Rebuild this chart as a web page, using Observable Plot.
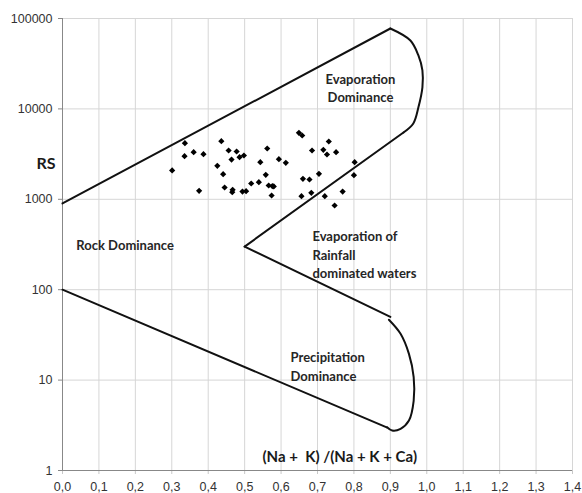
<!DOCTYPE html>
<html><head><meta charset="utf-8">
<script src="https://cdn.jsdelivr.net/npm/d3@7"></script>
<script src="https://cdn.jsdelivr.net/npm/@observablehq/plot@0.6"></script>
<style>html,body{margin:0;padding:0;background:#fff}#chart svg{display:block}</style>
</head><body><div id="chart"></div>
<script>
// Axis ticks
const xTicks = [0, 0.1, 0.2, 0.3, 0.4, 0.5, 0.6, 0.7, 0.8, 0.9, 1.0, 1.1, 1.2, 1.3, 1.4];
const yTicks = [1, 10, 100, 1000, 10000, 100000];

// Samples: (Na+K)/(Na+K+Ca) and RS
const sampleRatio = [0.301,0.336,0.335,0.360,0.387,0.375,0.436,0.456,0.478,0.464,0.486,0.498,0.425,0.441,0.445,0.467,0.466,0.494,0.504,0.518,0.539,0.562,0.543,0.558,0.566,0.576,0.580,0.574,0.594,0.613,0.649,0.658,0.685,0.660,0.678,0.704,0.656,0.683,0.716,0.731,0.726,0.751,0.720,0.747,0.769,0.802,0.800];
const sampleRS = [2084,4177,2998,3320,3155,1242,4393,3465,3378,2754,2923,3052,2348,1896,1351,1274,1198,1219,1230,1495,1547,3648,2572,1866,1421,1400,1387,1102,2779,2535,5442,5080,3465,1686,1656,1914,1082,1180,3530,4359,3131,3320,1082,854,1219,2572,1848];

// Gibbs boundaries
const rockUpperX = [0, 0.9];
const rockUpperRS = [900, 77500];
const evapCurveX = [0.9, 0.955, 0.977, 0.988, 0.988, 0.977, 0.963, 0.936];
const evapCurveRS = [77500, 57100, 39000, 26600, 17300, 10400, 6900, 5480];
const rainUpperX = [0.936, 0.5];
const rainUpperRS = [5480, 300];
const rainLowerX = [0.5, 0.9];
const rainLowerRS = [300, 50];
const precipCurveX = [0.896, 0.928, 0.951, 0.964, 0.964, 0.951, 0.928, 0.905, 0.891];
const precipCurveRS = [46.5, 32.5, 19.5, 10.8, 5.9, 3.57, 2.89, 2.77, 3.01];
const rockLowerX = [0, 0.89];
const rockLowerRS = [100, 3.0];

// Region labels
const labelText = ["Rock Dominance", "Evaporation\nDominance", "Evaporation of\nRainfall\ndominated waters", "Precipitation\nDominance"];
const labelX = [0.038, 0.818, 0.686, 0.626];
const labelRS = [324, 17460, 251, 14.5];
const labelAnchor = ["start", "middle", "start", "start"];
const xTitle = "(Na +  K) /(Na + K + Ca)";
const yTitle = "RS";

const pts = sampleRatio.map((x, i) => ({x, y: sampleRS[i]}));
const mk = (X, Y) => X.map((x, i) => ({x, y: Y[i]}));
const labels = labelText.map((t, i) => ({t, x: labelX[i], y: labelRS[i], a: labelAnchor[i]}));
const fmt = d => d.toFixed(1).replace(".", ",");
const labFont = "Lato, 'Open Sans', sans-serif";
const lineStyle = {x: "x", y: "y", stroke: "#111", strokeWidth: 2};
const labStyle = {x: "x", y: "y", text: "t", lineAnchor: "middle", lineHeight: 1.45, fontFamily: labFont, fontWeight: "bold", fontSize: 13, fill: "#262626"};

const chart = Plot.plot({
  width: 582, height: 493,
  marginLeft: 62, marginRight: 10, marginTop: 18, marginBottom: 23,
  style: {fontFamily: "'Liberation Sans', Arial, sans-serif", fontSize: "12.5px", color: "#333", background: "#fff", overflow: "visible"},
  x: {domain: [0, 1.4]},
  y: {type: "log", domain: [1, 100000]},
  marks: [
    Plot.gridX(xTicks.filter(d => d > 0), {stroke: "#d6d6d6", strokeOpacity: 1}),
    Plot.gridY(yTicks.filter(d => d > 1), {stroke: "#d6d6d6", strokeOpacity: 1}),
    Plot.axisX(xTicks, {tickFormat: fmt, tickSize: 4, tickPadding: 8, stroke: "#c8c8c8", fill: "#333", label: null}),
    Plot.axisY(yTicks, {tickFormat: d => String(d), tickSize: 4, tickPadding: 6, stroke: "#888", fill: "#333", label: null}),
    Plot.ruleY([1], {stroke: "#888"}),
    Plot.ruleX([0], {stroke: "#888"}),
    Plot.line(mk(rockUpperX, rockUpperRS), lineStyle),
    Plot.line(mk(evapCurveX, evapCurveRS), {...lineStyle, curve: "catmull-rom"}),
    Plot.line(mk(rainUpperX, rainUpperRS), lineStyle),
    Plot.line(mk(rainLowerX, rainLowerRS), lineStyle),
    Plot.line(mk(precipCurveX, precipCurveRS), {...lineStyle, curve: "catmull-rom"}),
    Plot.line(mk(rockLowerX, rockLowerRS), lineStyle),
    Plot.dot(pts, {x: "x", y: "y", symbol: "diamond2", r: 2.8, fill: "#000", stroke: "none"}),
    Plot.text(labels.filter(d => d.a === "start"), {...labStyle, textAnchor: "start"}),
    Plot.text(labels.filter(d => d.a === "middle"), {...labStyle, textAnchor: "middle"}),
    Plot.text([xTitle], {x: 0.549, y: 1.39, textAnchor: "start", fontFamily: labFont, fontWeight: "bold", fontSize: 15, fill: "#1a1a1a"}),
    Plot.text([yTitle], {x: 0, y: 2490, dx: -26, textAnchor: "start", fontFamily: labFont, fontWeight: "bold", fontSize: 16, fill: "#1a1a1a"})
  ]
});
document.getElementById("chart").appendChild(chart);
</script>
</body></html>
